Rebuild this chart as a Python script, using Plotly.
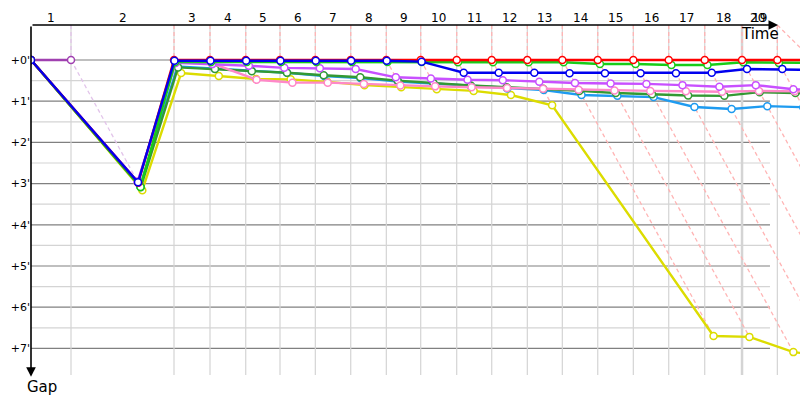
import plotly.graph_objects as go

# ---------------- data ----------------
lap_labels = [str(i) for i in range(1, 21)]
# leader crossing times (minutes), index = lap number (0 = start)
leader_times = [0, 1.772, 6.336, 7.931, 9.513, 11.032, 12.597, 14.165, 15.742, 17.266,
                18.861, 20.412, 21.989, 23.540, 25.109, 26.686, 28.254, 29.849, 31.502,
                33.066, 34.630]
# leader of each lap (index = lap)
lap_leader = ["P", "P", "R", "R", "R", "R", "R", "R", "R", "R",
              "R", "R", "R", "R", "R", "R", "R", "R", "R", "R", "R"]

gap_ticks = [0, 1, 2, 3, 4, 5, 6, 7]
gap_ticktext = ["+0'", "+1'", "+2'", "+3'", "+4'", "+5'", "+6'", "+7'"]

# gaps to leader (minutes), index = lap
gap_P = [0, 0]
gap_yellow = [0, 3.16, 0.316, 0.39, 0.46, 0.47, 0.53, 0.61, 0.66, 0.71, 0.75, 0.85, 1.10,
              6.70, 6.72, 7.09, 7.20, 7.30, 7.40, 7.50, 7.60]
gap_cyan = [0, 3.06, 0.155, 0.21, 0.26, 0.31, 0.39, 0.44, 0.52, 0.57, 0.63, 0.69, 0.73,
            0.85, 0.87, 0.90, 1.14, 1.19, 1.12, 1.15, 1.17]
gap_dkgreen = [0, 3.09, 0.18, 0.22, 0.27, 0.31, 0.37, 0.42, 0.50, 0.56, 0.62, 0.66, 0.70,
               0.75, 0.80, 0.83, 0.86, 0.87, 0.78, 0.80, 0.82]
gap_pink = [0, 2.96, 0.06, 0.08, 0.48, 0.55, 0.55, 0.58, 0.62, 0.64, 0.66, 0.68, 0.70,
            0.72, 0.74, 0.75, 0.76, 0.77, 0.75, 0.76, 0.77]
gap_violet = [0, 2.95, 0.07, 0.10, 0.14, 0.19, 0.20, 0.22, 0.42, 0.45, 0.48, 0.49, 0.53,
              0.56, 0.57, 0.58, 0.61, 0.65, 0.61, 0.71, 0.72]
gap_green = [0, 3.08, 0.05, 0.05, 0.05, 0.05, 0.05, 0.05, 0.05, 0.05, 0.056, 0.056, 0.056,
             0.056, 0.097, 0.097, 0.12, 0.12, 0.056, 0.07, 0.07]
gap_red = [0, 2.98, 0, 0, 0, 0, 0, 0, 0, 0, 0, 0, 0, 0, 0, 0, 0, 0, 0, 0, 0]
gap_blue = [0, 2.97, 0.018, 0.018, 0.018, 0.018, 0.018, 0.018, 0.018, 0.04, 0.31, 0.31, 0.31,
            0.32, 0.32, 0.32, 0.32, 0.31, 0.22, 0.22, 0.24]

drivers = [
    ("P", gap_P, "#a040b0"),
    ("Yellow", gap_yellow, "#dcdc00"),
    ("Cyan", gap_cyan, "#1e9bf0"),
    ("DkGreen", gap_dkgreen, "#339933"),
    ("Pink", gap_pink, "#ff88c8"),
    ("Violet", gap_violet, "#c850ff"),
    ("Green", gap_green, "#18cc18"),
    ("R", gap_red, "#ff0000"),
    ("Blue", gap_blue, "#0000ee"),
]
leader_guide_color = {"P": "#e2c4ea", "R": "#ffb4b4"}

# ---------------- layout constants ----------------
W, H = 800, 400
ML, MT = 31, 25
X_MAX = 34.07
Y_TOP = -0.8495
Y_BOT = 8.252
GRID_X_END = 32.74
VGRID_BOTTOM = 7.646
AXIS_TIME_MAX = leader_times[19]

fig = go.Figure()

# gridlines
shapes = []
for g in range(0, 8):
    shapes.append(dict(type="line", xref="x", yref="y", x0=0, x1=GRID_X_END, y0=g, y1=g,
                       line=dict(color="#808080", width=1.2), layer="below"))
for g in range(0, 7):
    shapes.append(dict(type="line", xref="x", yref="y", x0=0, x1=GRID_X_END, y0=g + 0.5, y1=g + 0.5,
                       line=dict(color="#d4d4d4", width=1.2), layer="below"))
for k in range(1, len(leader_times)):
    t = leader_times[k]
    shapes.append(dict(type="line", xref="x", yref="y", x0=t, x1=t, y0=Y_TOP, y1=VGRID_BOTTOM,
                       line=dict(color="#d4d4d4", width=2.5 if k == 18 else 1.2), layer="below"))

# leader guide lines (from the time axis down to the leader, then the "lapped" diagonal)
for k in range(1, len(leader_times)):
    t = leader_times[k]
    gaps_k = [d[1][k] for d in drivers if len(d[1]) > k and d[1][k] is not None]
    gmax = max(gaps_k)
    fig.add_trace(go.Scatter(
        x=[min(t, AXIS_TIME_MAX), t, t + gmax], y=[Y_TOP, 0, gmax], mode="lines",
        line=dict(color=leader_guide_color[lap_leader[k]], width=1.3, dash="4px,3px"),
        hoverinfo="skip", showlegend=False))

# driver traces
for name, gaps, color in drivers:
    xs = [leader_times[k] + g for k, g in enumerate(gaps)]
    fig.add_trace(go.Scatter(
        x=xs, y=gaps, mode="lines+markers", name=name,
        line=dict(color=color, width=2.4),
        marker=dict(symbol="circle", size=7, color="white", line=dict(color=color, width=1.5)),
        showlegend=False))

# lap labels on top
annotations = []
for i, lab in enumerate(lap_labels):
    lap = i + 1
    if lap < len(leader_times) - 1:
        xc = (leader_times[lap - 1] + leader_times[lap]) / 2
    else:
        xc = (leader_times[18] + leader_times[19]) / 2 - 0.1
    annotations.append(dict(x=xc, y=1, xref="x", yref="paper", text=lab, showarrow=False,
                            yanchor="bottom", yshift=-2,
                            font=dict(family="DejaVu Sans", size=12, color="black")))

# axis arrows
annotations.append(dict(x=33.1, y=Y_TOP, xref="x", yref="y", ax=0, ay=Y_TOP, axref="x", ayref="y",
                        showarrow=True, arrowhead=2, arrowsize=1.2, arrowwidth=1.6, arrowcolor="black", text=""))
annotations.append(dict(x=0, y=7.69, xref="x", yref="y", ax=0, ay=Y_TOP, axref="x", ayref="y",
                        showarrow=True, arrowhead=2, arrowsize=1.2, arrowwidth=1.6, arrowcolor="black", text=""))
annotations.append(dict(x=32.3, y=-0.62, xref="x", yref="y", text="Time", showarrow=False,
                        font=dict(family="DejaVu Sans", size=15, color="black")))
annotations.append(dict(x=-6 / 769, y=7.94, xref="paper", yref="y", text="Gap", showarrow=False,
                        font=dict(family="DejaVu Sans", size=15, color="black")))

fig.update_layout(
    width=W, height=H, autosize=False,
    margin=dict(l=ML, r=0, t=MT, b=0, pad=0),
    paper_bgcolor="white", plot_bgcolor="white",
    shapes=shapes, annotations=annotations,
    xaxis=dict(range=[0, X_MAX], showgrid=False, zeroline=False, showticklabels=False,
               showline=False, fixedrange=True),
    yaxis=dict(range=[Y_BOT, Y_TOP], showgrid=False, zeroline=False, showline=False,
               tickvals=gap_ticks, ticktext=gap_ticktext, ticks="", automargin=False,
               tickfont=dict(family="DejaVu Sans", size=11, color="black"), fixedrange=True),
    font=dict(family="DejaVu Sans"),
)

fig.write_html("out.html", config={"staticPlot": True},
               post_script="document.body.style.margin='0';document.body.style.overflow='hidden';")
